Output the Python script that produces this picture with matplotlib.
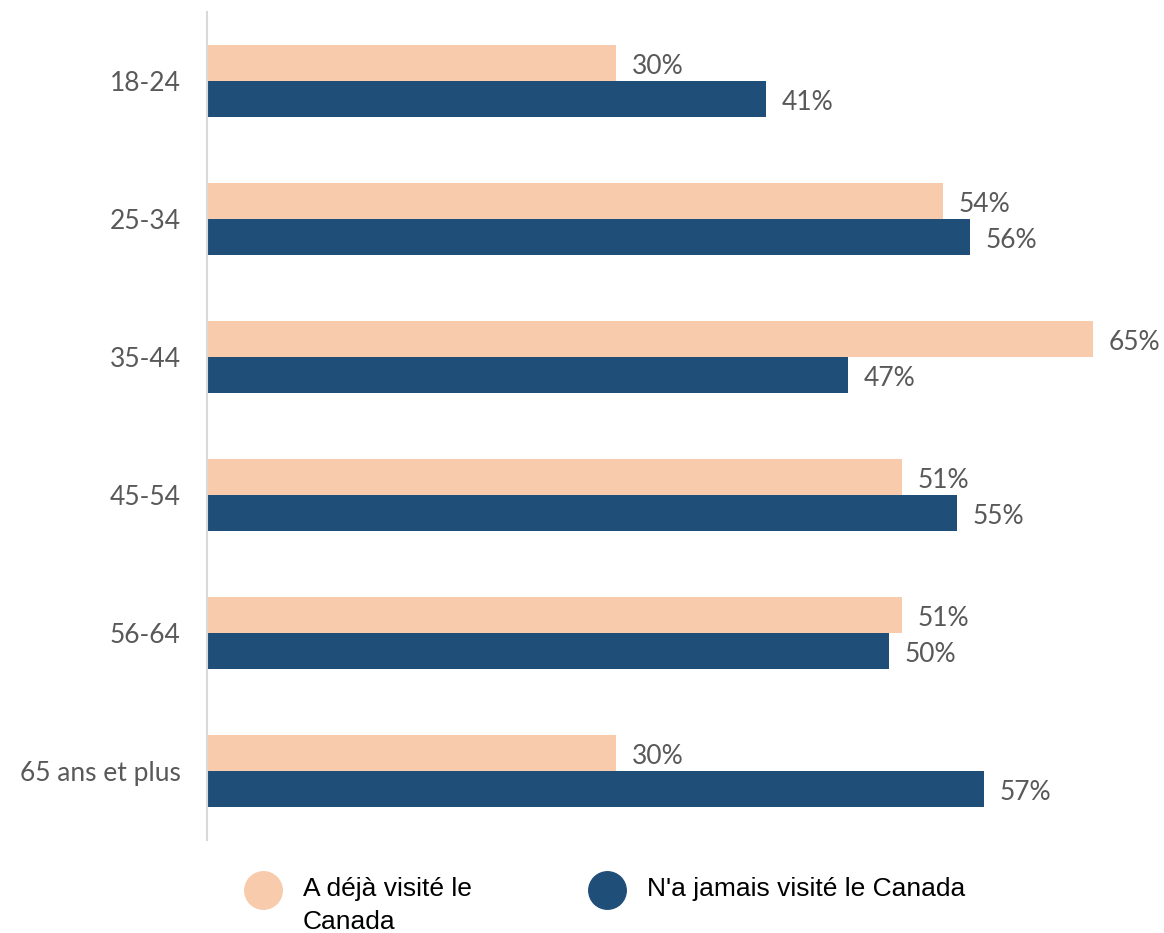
import numpy as np
import matplotlib.pyplot as plt
from matplotlib.lines import Line2D

categories = ['18-24', '25-34', '35-44', '45-54', '56-64', '65 ans et plus']
visited = [30, 54, 65, 51, 51, 30]
never_visited = [41, 56, 47, 55, 50, 57]
series_labels = ['A déjà visité le\nCanada', "N'a jamais visité le Canada"]

peach = '#F8CBAD'
navy = '#1F4E79'
grey = '#595959'

fig = plt.figure(figsize=(11.64, 9.33), dpi=100)
ax = fig.add_axes([207 / 1164, 1 - 840 / 933, 943 / 1164, 828 / 933])

y = np.arange(len(categories))
h = 36 / 138
ax.barh(y - h / 2, visited, height=h, color=peach)
ax.barh(y + h / 2, never_visited, height=h, color=navy)

off = 0.025  # nudge labels slightly down
for yi, v in zip(y, visited):
    ax.text(v + 1.15, yi - h / 2 + off, f'{v}%', va='center', ha='left',
            fontsize=19, color=grey, family='Lato')
for yi, v in zip(y, never_visited):
    ax.text(v + 1.15, yi + h / 2 + off, f'{v}%', va='center', ha='left',
            fontsize=19, color=grey, family='Lato')

ax.set_xlim(0, 943 / (886 / 65))
ax.set_ylim(len(categories) - 0.5, -0.5)
ax.set_yticks(y)
ax.set_yticklabels(categories, fontsize=19, color=grey, family='Lato')
ax.tick_params(axis='y', length=0, pad=19)
ax.set_xticks([])
for s in ['top', 'right', 'bottom']:
    ax.spines[s].set_visible(False)
ax.spines['left'].set_color('#D9D9D9')
ax.spines['left'].set_linewidth(1.5)

# legend
for xm, color, label in [(263, peach, series_labels[0]), (607, navy, series_labels[1])]:
    fig.add_artist(Line2D([xm / 1164], [1 - 890 / 933], marker='o', markersize=27,
                          color=color, linestyle='none', transform=fig.transFigure))
    fig.text((xm + 40) / 1164, 1 - 877 / 933, label, ha='left', va='top',
             fontsize=19, family='Liberation Sans', color='black', linespacing=1.45)

fig.savefig('out.png', dpi=100)
